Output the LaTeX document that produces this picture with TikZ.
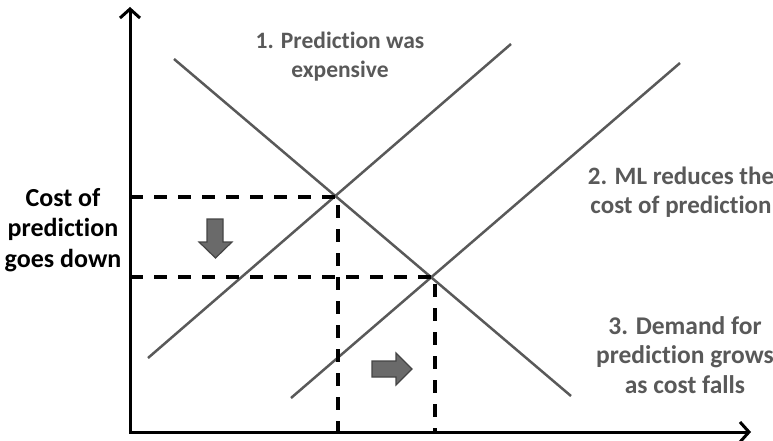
\documentclass[tikz,border=0pt]{standalone}
\usepackage{fontspec}
\setmainfont{Carlito}[Ligatures={NoCommon}]
\usetikzlibrary{arrows.meta}
\definecolor{linegray}{HTML}{595959}
\definecolor{textgray}{HTML}{595959}
\definecolor{blockfill}{HTML}{6A6A6A}
\definecolor{blockedge}{HTML}{454545}
\tikzset{
  curve/.style={draw=linegray, line width=2.5pt},
  axis/.style={draw=black, line width=3pt, {Straight Barb[length=9pt,width=20pt]}-{Straight Barb[length=9pt,width=20pt]}},
  guide/.style={draw=black, line width=3.5pt, dash pattern=on 13pt off 11pt},
  label/.style={font=\bfseries, align=center, inner sep=0pt},
  graylabel/.style={label, text=textgray},
  block/.style={fill=blockfill, draw=blockedge, line width=1.2pt, line join=miter}
}
\begin{document}
\begin{tikzpicture}[x=1pt,y=-1pt]
\useasboundingbox (0,0) rectangle (773,441);
% axes
\coordinate (O) at (130,432);
\coordinate (Ytop) at (130,7);
\coordinate (Xend) at (751,432);
\draw[axis] (Ytop) -- (O) -- (Xend);
% curves
\coordinate (D1) at (174,59);
\coordinate (D2) at (571,396);
\coordinate (S1a) at (148,358);
\coordinate (S1b) at (511,44);
\coordinate (S2a) at (291,398);
\coordinate (S2b) at (680,63);
\draw[curve] (D1) -- (D2);
\draw[curve] (S1a) -- (S1b);
\draw[curve] (S2a) -- (S2b);
% equilibrium guides
\coordinate (E1) at (338,197);
\coordinate (E2) at (435,277);
\coordinate (P1) at (130,197);
\coordinate (P2) at (130,277);
\coordinate (Q1) at (338,432);
\coordinate (Q2) at (435,432);
\draw[guide] (P1) -- (E1) -- (Q1);
\draw[guide] (P2) -- (E2) -- (Q2);
% block arrows
\path[block] (207,219) -- (223,219) -- (223,242) -- (232,242) -- (215.5,258) -- (199,242) -- (207,242) -- cycle;
\path[block] (372,361) -- (396,361) -- (396,353) -- (412,369) -- (396,385) -- (396,377) -- (372,377) -- cycle;
% labels
\node[graylabel, font=\bfseries\fontsize{23.5}{29}\selectfont] (t1) at (340,57) {1. Prediction was\\expensive};
\node[label, font=\bfseries\fontsize{26}{30.5}\selectfont] (t0) at (63,230) {Cost of\\prediction\\goes down};
\node[graylabel, font=\bfseries\fontsize{25}{29}\selectfont] (t2) at (681,192) {2. ML reduces the\\cost of prediction};
\node[graylabel, font=\bfseries\fontsize{25.5}{29.5}\selectfont] (t3) at (685,355) {3. Demand for\\prediction grows\\as cost falls};
\end{tikzpicture}
\end{document}
